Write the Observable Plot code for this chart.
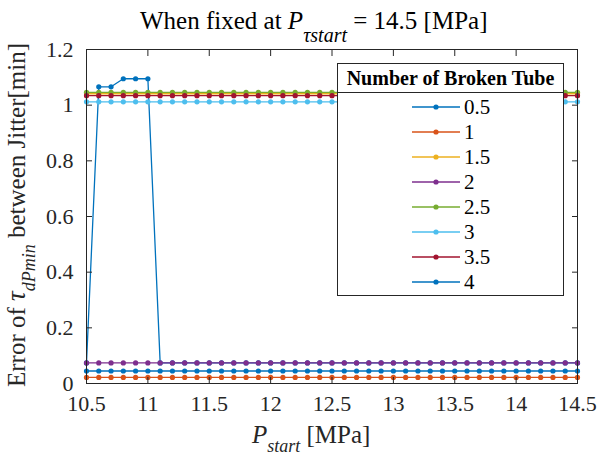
<!DOCTYPE html>
<html><head><meta charset="utf-8">
<script src="https://cdn.jsdelivr.net/npm/d3@7"></script>
<script src="https://cdn.jsdelivr.net/npm/@observablehq/plot@0.6"></script>
<style>
body{margin:0;background:#fff;}
#wrap{position:relative;width:598px;height:456px;overflow:hidden;color:#262626;}
#wrap, #wrap *, #wrap svg text{font-family:"Liberation Serif","Times New Roman",serif !important;}
#wrap > svg{position:absolute;left:0;top:0;}
.abs{position:absolute;white-space:nowrap;line-height:1;}
.it{font-style:italic;}
#legend{position:absolute;left:337px;top:63px;width:225px;height:231px;border:1px solid #262626;background:#fff;box-sizing:content-box;}
#legend .ttl{height:28px;border-bottom:1px solid #262626;font-weight:bold;font-size:20px;color:#000;text-align:center;line-height:28px;}
#legend .row{position:absolute;left:0;height:20px;}
#legend .row span{position:absolute;left:126px;top:0;font-size:21px;line-height:20px;color:#000;}
</style></head><body>
<div id="wrap"></div>
<script>
const pStart = [10.5,10.6,10.7,10.8,10.9,11.0,11.1,11.2,11.3,11.4,11.5,11.6,11.7,11.8,11.9,12.0,12.1,12.2,12.3,12.4,12.5,12.6,12.7,12.8,12.9,13.0,13.1,13.2,13.3,13.4,13.5,13.6,13.7,13.8,13.9,14.0,14.1,14.2,14.3,14.4,14.5];
const seriesNames = ["0.5","1","1.5","2","2.5","3","3.5","4"];
const err_0_5 = [0.074,1.066,1.066,1.095,1.095,1.095,0.074,0.074,0.074,0.074,0.074,0.074,0.074,0.074,0.074,0.074,0.074,0.074,0.074,0.074,0.074,0.074,0.074,0.074,0.074,0.074,0.074,0.074,0.074,0.074,0.074,0.074,0.074,0.074,0.074,0.074,0.074,0.074,0.074,0.074,0.074];
const err_1 = [0.022,0.022,0.022,0.022,0.022,0.022,0.022,0.022,0.022,0.022,0.022,0.022,0.022,0.022,0.022,0.022,0.022,0.022,0.022,0.022,0.022,0.022,0.022,0.022,0.022,0.022,0.022,0.022,0.022,0.022,0.022,0.022,0.022,0.022,0.022,0.022,0.022,0.022,0.022,0.022,0.022];
const err_1_5 = [1.041,1.041,1.041,1.041,1.041,1.041,1.041,1.041,1.041,1.041,1.041,1.041,1.041,1.041,1.041,1.041,1.041,1.041,1.041,1.041,1.041,1.041,1.041,1.041,1.041,1.041,1.041,1.041,1.041,1.041,1.041,1.041,1.041,1.041,1.041,1.041,1.041,1.041,1.041,1.041,1.041];
const err_2 = [0.074,0.074,0.074,0.074,0.074,0.074,0.074,0.074,0.074,0.074,0.074,0.074,0.074,0.074,0.074,0.074,0.074,0.074,0.074,0.074,0.074,0.074,0.074,0.074,0.074,0.074,0.074,0.074,0.074,0.074,0.074,0.074,0.074,0.074,0.074,0.074,0.074,0.074,0.074,0.074,0.074];
const err_2_5 = [1.046,1.046,1.046,1.046,1.046,1.046,1.046,1.046,1.046,1.046,1.046,1.046,1.046,1.046,1.046,1.046,1.046,1.046,1.046,1.046,1.046,1.046,1.046,1.046,1.046,1.046,1.046,1.046,1.046,1.046,1.046,1.046,1.046,1.046,1.046,1.046,1.046,1.046,1.046,1.046,1.046];
const err_3 = [1.012,1.012,1.012,1.012,1.012,1.012,1.012,1.012,1.012,1.012,1.012,1.012,1.012,1.012,1.012,1.012,1.012,1.012,1.012,1.012,1.012,1.012,1.012,1.012,1.012,1.012,1.012,1.012,1.012,1.012,1.012,1.012,1.012,1.012,1.012,1.012,1.012,1.012,1.012,1.012,1.012];
const err_3_5 = [1.034,1.034,1.034,1.034,1.034,1.034,1.034,1.034,1.034,1.034,1.034,1.034,1.034,1.034,1.034,1.034,1.034,1.034,1.034,1.034,1.034,1.034,1.034,1.034,1.034,1.034,1.034,1.034,1.034,1.034,1.034,1.034,1.034,1.034,1.034,1.034,1.034,1.034,1.034,1.034,1.034];
const err_4 = [0.045,0.045,0.045,0.045,0.045,0.045,0.045,0.045,0.045,0.045,0.045,0.045,0.045,0.045,0.045,0.045,0.045,0.045,0.045,0.045,0.045,0.045,0.045,0.045,0.045,0.045,0.045,0.045,0.045,0.045,0.045,0.045,0.045,0.045,0.045,0.045,0.045,0.045,0.045,0.045,0.045];
const xTicks = [10.5,11,11.5,12,12.5,13,13.5,14,14.5];
const yTicks = [0,0.2,0.4,0.6,0.8,1,1.2];
const palette = ["#0072BD","#D95319","#EDB120","#7E2F8E","#77AC30","#4DBEEE","#A2142F","#0072BD"];

const seriesValues = [err_0_5, err_1, err_1_5, err_2, err_2_5, err_3, err_3_5, err_4];
const seriesRows = seriesNames.map((name, i) =>
  pStart.map((p, j) => ({p, v: seriesValues[i][j], s: name})));

const axisColor = "#262626";
const serif = '"Liberation Serif","Times New Roman",serif';
const marks = [];
seriesRows.forEach(rows => {
  marks.push(Plot.line(rows, {x: "p", y: "v", stroke: "s", strokeWidth: 1.3}));
  marks.push(Plot.dot(rows, {x: "p", y: "v", fill: "s", r: 2.6}));
});
marks.push(
  Plot.axisX({anchor: "bottom", ticks: xTicks, tickSize: -6, tickPadding: 18, tickFormat: d => String(d), label: null, fontFamily: serif, fontSize: 22}),
  Plot.axisX({anchor: "top", ticks: xTicks, tickSize: -6, tickFormat: () => "", label: null}),
  Plot.axisY({anchor: "left", ticks: yTicks, tickSize: -6, tickPadding: 19, tickFormat: d => String(d), label: null, fontFamily: serif, fontSize: 22}),
  Plot.axisY({anchor: "right", ticks: yTicks, tickSize: -6, tickFormat: () => "", label: null}),
  Plot.frame({stroke: axisColor})
);

const chart = Plot.plot({
  width: 598, height: 456,
  marginLeft: 86, marginRight: 21, marginTop: 49, marginBottom: 73,
  style: {fontFamily: serif, fontSize: "22px", color: axisColor, background: "#fff", overflow: "visible"},
  x: {domain: [10.5, 14.5]},
  y: {domain: [0, 1.2]},
  color: {type: "ordinal", domain: seriesNames, range: palette},
  marks
});
const wrap = document.getElementById("wrap");
wrap.appendChild(chart);

// title
const title = document.createElement("div");
title.className = "abs";
title.style.cssText = "left:140px;top:8px;font-size:25px;color:#000;";
title.innerHTML = 'When fixed at <span class="it">P</span><span class="it" style="font-size:20px;vertical-align:-13px;">τstart</span> = 14.5 [MPa]';
wrap.appendChild(title);

// x label
const xl = document.createElement("div");
xl.className = "abs";
xl.style.cssText = "left:252px;top:422px;font-size:25px;color:#262626;";
xl.innerHTML = '<span class="it">P</span><span class="it" style="font-size:18px;vertical-align:-9px;">start</span> [MPa]';
wrap.appendChild(xl);

// y label
const yl = document.createElement("div");
yl.className = "abs";
yl.style.cssText = "left:20px;top:215px;font-size:25px;color:#262626;transform:translate(-50%,-50%) rotate(-90deg);";
yl.innerHTML = 'Error of <span class="it" style="font-size:27px;">τ</span><span class="it" style="font-size:18px;vertical-align:-10px;">dPmin</span> between Jitter[min]';
wrap.appendChild(yl);

// legend
const lg = document.createElement("div");
lg.id = "legend";
let html = '<div class="ttl">Number of Broken Tube</div>';
seriesNames.forEach((name, i) => {
  const cy = 42.7 + i * 25.1;
  html += `<div class="row" style="top:${cy - 10}px;width:225px;">
    <svg width="50" height="20" style="position:absolute;left:73px;top:0"><line x1="1" x2="49" y1="10" y2="10" stroke="${palette[i]}" stroke-width="1.3"/><circle cx="25" cy="10" r="2.6" fill="${palette[i]}"/></svg>
    <span style="top:0">${name}</span></div>`;
});
lg.innerHTML = html;
wrap.appendChild(lg);
</script>
</body></html>
